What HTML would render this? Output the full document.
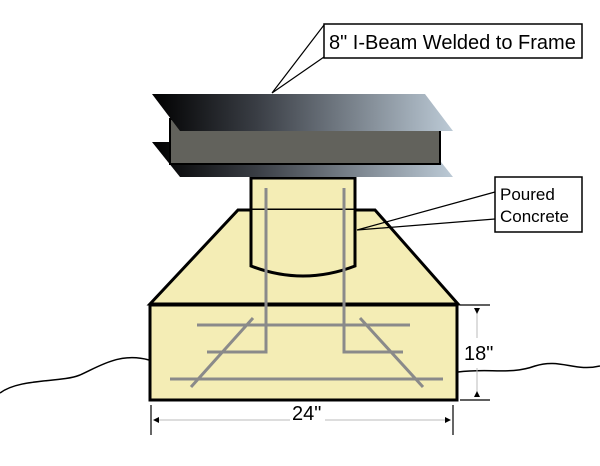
<!DOCTYPE html>
<html><head><meta charset="utf-8"><style>
html,body{margin:0;padding:0;background:#fff;width:600px;height:466px;overflow:hidden}
svg{display:block}
text{font-family:"Liberation Sans",Arial,sans-serif;fill:#000}
</style></head><body>
<svg width="600" height="466" viewBox="0 0 600 466" xmlns="http://www.w3.org/2000/svg">
<defs>
<linearGradient id="g" x1="0" x2="1" y1="0" y2="0">
<stop offset="0" stop-color="#000"/>
<stop offset="0.35" stop-color="#3a3e45"/>
<stop offset="1" stop-color="#bccad6"/>
</linearGradient>
</defs>
<path d="M0,393 C20,378 60,383 80,375 C100,366 120,352 149,360" fill="none" stroke="#000" stroke-width="1.5"/>
<path d="M458,372 C490,368 510,375 535,366 C560,358 575,372 600,366" fill="none" stroke="#000" stroke-width="1.5"/>
<path d="M251,178 L355,178 L355,266 Q303,286 251,266 Z" fill="#f4edb5" stroke="#000" stroke-width="3"/>
<path d="M238,210 L375,210 L458,304 L150,304 Z" fill="#f4edb5" stroke="#000" stroke-width="3"/>
<path d="M251,210 L251,266 Q303,286 355,266 L355,210" fill="#f4edb5" stroke="#000" stroke-width="3"/>
<rect x="150" y="305" width="307" height="95" fill="#f4edb5" stroke="#000" stroke-width="3"/>
<g stroke="#8a8a8a" stroke-width="3" fill="none">
<path d="M266,188 L266,352 L207,352"/>
<path d="M344,188 L344,352 L403,352"/>
<path d="M197,325 L410,325"/>
<path d="M170,379 L443,379"/>
<path d="M253,318 L191,387"/>
<path d="M360,318 L423,387"/>
</g>
<polygon points="152,142 425,142 453,177 180,177" fill="url(#g)"/>
<rect x="170" y="119" width="270" height="45" fill="#62625c" stroke="#000" stroke-width="2"/>
<polygon points="152,94 425,94 453,131 180,131" fill="url(#g)"/>
<rect x="324" y="24" width="258" height="34" fill="#fff" stroke="#000" stroke-width="1.5"/>
<path d="M324,25 L272,93 M324,57 L272,93" stroke="#000" stroke-width="1.2" fill="none"/>
<text x="329" y="49" font-size="20">8" I-Beam Welded to Frame</text>
<rect x="495" y="177" width="87" height="55" fill="#fff" stroke="#000" stroke-width="1.5"/>
<path d="M495,192 L357,230 M495,219 L357,230" stroke="#000" stroke-width="1.2" fill="none"/>
<text x="500" y="200" font-size="17">Poured</text>
<text x="500" y="222" font-size="17">Concrete</text>
<g stroke="#000" stroke-width="1.2">
<path d="M460,305 L490,305 M460,400 L490,400"/>
<path d="M151,405 L151,435 M453,405 L453,435"/>
</g>
<g stroke="#bbb" stroke-width="1">
<path d="M477,310 L477,338 M477,368 L477,395"/>
<path d="M156,420 L290,420 M325,420 L448,420"/>
</g>
<polygon points="474,308 480,308 477,314" fill="#000"/>
<polygon points="474,397 480,397 477,391" fill="#000"/>
<polygon points="153,420 159,417 159,423" fill="#000"/>
<polygon points="451,420 445,417 445,423" fill="#000"/>
<text x="464" y="360" font-size="20">18"</text>
<text x="292" y="420" font-size="20">24"</text>
</svg>
</body></html>
